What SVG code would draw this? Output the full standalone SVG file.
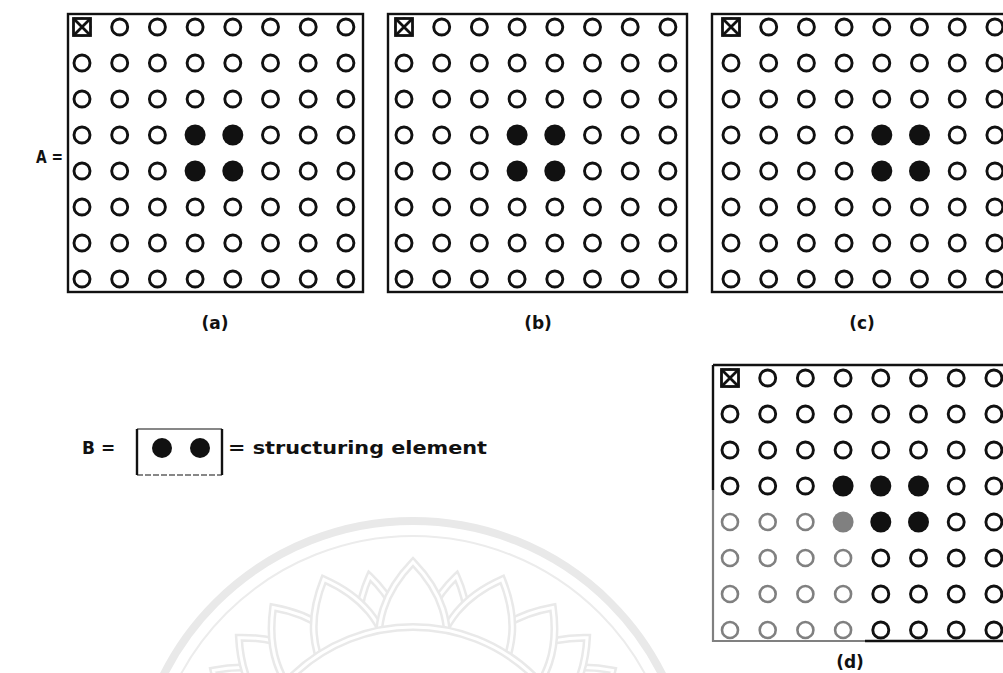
<svg xmlns="http://www.w3.org/2000/svg" xmlns:xlink="http://www.w3.org/1999/xlink" width="1003" height="673" viewBox="0 0 1003 673">
<style>
  .frame { fill: none; stroke: #111; stroke-width: 2.4; }
  .dots { fill: #fff; stroke: #111; stroke-width: 2.9; }
  .dim { fill: #fff; stroke: #808080; stroke-width: 2.6; }
  .solid { fill: #111; stroke: none; }
  .grey { fill: #808080; stroke: none; }
  .cross { fill: #fff; stroke: #111; stroke-width: 2.8; }
  .lbl { font-family: "DejaVu Sans", "Liberation Sans", sans-serif; font-weight: bold; font-size: 17px; fill: #111; }
  .wm-o { fill: #fff; stroke: #e9e9e9; stroke-width: 8; }
  .wm-i { fill: none; stroke: #fff; stroke-width: 3; }
</style>
<defs>
  <g id="q">
    <circle cx="0" cy="0" r="8"/>
    <circle cx="37.7" cy="0" r="8"/>
    <circle cx="75.4" cy="0" r="8"/>
    <circle cx="113.1" cy="0" r="8"/>
  </g>
  <g id="row">
    <use href="#q"/>
    <use href="#q" x="150.8"/>
  </g>
  <g id="xbox">
    <rect x="-8.5" y="-8.5" width="17" height="17"/>
    <path d="M-8.5,-8.5 L8.5,8.5 M8.5,-8.5 L-8.5,8.5"/>
  </g>
  <path id="petal" d="M380,668 C374,622 384,592 413,562 C442,592 452,622 446,668 Z"/>
  <path id="petal-s" d="M391,668 C388,620 396,596 413,572 C430,596 438,620 435,668 Z"/>
</defs>

<rect x="0" y="0" width="1003" height="673" fill="#fff"/>

<!-- faint watermark -->
<g id="watermark">
  <circle cx="413" cy="800" r="279" fill="none" stroke="#e9e9e9" stroke-width="8"/>
  <circle cx="413" cy="800" r="264" fill="none" stroke="#ececec" stroke-width="2"/>
  <use href="#petal" class="wm-o" transform="rotate(-57 413 800)"/><use href="#petal" class="wm-i" transform="rotate(-57 413 800)"/>
  <use href="#petal" class="wm-o" transform="rotate(57 413 800)"/><use href="#petal" class="wm-i" transform="rotate(57 413 800)"/>
  <use href="#petal" class="wm-o" transform="rotate(-47 413 800)"/><use href="#petal" class="wm-i" transform="rotate(-47 413 800)"/>
  <use href="#petal" class="wm-o" transform="rotate(47 413 800)"/><use href="#petal" class="wm-i" transform="rotate(47 413 800)"/>
  <use href="#petal" class="wm-o" transform="rotate(-36 413 800)"/><use href="#petal" class="wm-i" transform="rotate(-36 413 800)"/>
  <use href="#petal" class="wm-o" transform="rotate(36 413 800)"/><use href="#petal" class="wm-i" transform="rotate(36 413 800)"/>
  <use href="#petal-s" class="wm-o" transform="rotate(-11 413 800)"/><use href="#petal-s" class="wm-i" transform="rotate(-11 413 800)"/>
  <use href="#petal-s" class="wm-o" transform="rotate(11 413 800)"/><use href="#petal-s" class="wm-i" transform="rotate(11 413 800)"/>
  <use href="#petal" class="wm-o" transform="rotate(-22 413 800)"/><use href="#petal" class="wm-i" transform="rotate(-22 413 800)"/>
  <use href="#petal" class="wm-o" transform="rotate(22 413 800)"/><use href="#petal" class="wm-i" transform="rotate(22 413 800)"/>
  <use href="#petal" class="wm-o"/><use href="#petal" class="wm-i"/>
  <circle cx="413" cy="800" r="173" class="wm-o" stroke-width="7"/>
  <circle cx="413" cy="800" r="173" class="wm-i" stroke-width="2.4"/>
</g>

<!-- (a) -->
<g id="grid-a">
  <rect x="68" y="14" width="295" height="278" class="frame"/>
  <g class="dots">
    <use href="#row" x="82" y="27"/>
    <use href="#row" x="82" y="63"/>
    <use href="#row" x="82" y="99"/>
    <use href="#row" x="82" y="135"/>
    <use href="#row" x="82" y="171"/>
    <use href="#row" x="82" y="207"/>
    <use href="#row" x="82" y="243"/>
    <use href="#row" x="82" y="279"/>
  </g>
  <use href="#xbox" class="cross" x="82" y="27"/>
  <g class="solid">
    <circle cx="195.1" cy="135" r="10.5"/><circle cx="232.8" cy="135" r="10.5"/>
    <circle cx="195.1" cy="171" r="10.5"/><circle cx="232.8" cy="171" r="10.5"/>
  </g>
  <text x="215" y="329" class="lbl" text-anchor="middle">(a)</text>
</g>
<text id="label-A" x="36" y="163" class="lbl" font-size="16" textLength="27" lengthAdjust="spacingAndGlyphs">A =</text>

<!-- (b) -->
<g id="grid-b">
  <rect x="388" y="14" width="299" height="278" class="frame"/>
  <g class="dots">
    <use href="#row" x="404" y="27"/>
    <use href="#row" x="404" y="63"/>
    <use href="#row" x="404" y="99"/>
    <use href="#row" x="404" y="135"/>
    <use href="#row" x="404" y="171"/>
    <use href="#row" x="404" y="207"/>
    <use href="#row" x="404" y="243"/>
    <use href="#row" x="404" y="279"/>
  </g>
  <use href="#xbox" class="cross" x="404" y="27"/>
  <g class="solid">
    <circle cx="517.1" cy="135" r="10.5"/><circle cx="554.8" cy="135" r="10.5"/>
    <circle cx="517.1" cy="171" r="10.5"/><circle cx="554.8" cy="171" r="10.5"/>
  </g>
  <text x="538" y="329" class="lbl" text-anchor="middle">(b)</text>
</g>

<!-- (c) -->
<g id="grid-c">
  <rect x="712" y="14" width="310" height="278" class="frame"/>
  <g class="dots">
    <use href="#row" x="731" y="27"/>
    <use href="#row" x="731" y="63"/>
    <use href="#row" x="731" y="99"/>
    <use href="#row" x="731" y="135"/>
    <use href="#row" x="731" y="171"/>
    <use href="#row" x="731" y="207"/>
    <use href="#row" x="731" y="243"/>
    <use href="#row" x="731" y="279"/>
  </g>
  <use href="#xbox" class="cross" x="731" y="27"/>
  <g class="solid">
    <circle cx="881.8" cy="135" r="10.5"/><circle cx="919.5" cy="135" r="10.5"/>
    <circle cx="881.8" cy="171" r="10.5"/><circle cx="919.5" cy="171" r="10.5"/>
  </g>
  <text x="862" y="329" class="lbl" text-anchor="middle">(c)</text>
</g>

<!-- (d) -->
<g id="grid-d">
  <path d="M713,365 H1003 M713,365 V490 M865,641 H1003" class="frame"/>
  <path d="M713,490 V641 H865" fill="none" stroke="#808080" stroke-width="2.2"/>
  <g class="dots">
    <use href="#row" x="730" y="378"/>
    <use href="#row" x="730" y="414"/>
    <use href="#row" x="730" y="450"/>
    <use href="#row" x="730" y="486"/>
    <use href="#q" x="880.8" y="522"/>
    <use href="#q" x="880.8" y="558"/>
    <use href="#q" x="880.8" y="594"/>
    <use href="#q" x="880.8" y="630"/>
  </g>
  <g class="dim">
    <use href="#q" x="730" y="522"/>
    <use href="#q" x="730" y="558"/>
    <use href="#q" x="730" y="594"/>
    <use href="#q" x="730" y="630"/>
  </g>
  <use href="#xbox" class="cross" x="730" y="378"/>
  <g class="solid">
    <circle cx="843.1" cy="486" r="10.5"/><circle cx="880.8" cy="486" r="10.5"/><circle cx="918.5" cy="486" r="10.5"/>
    <circle cx="880.8" cy="522" r="10.5"/><circle cx="918.5" cy="522" r="10.5"/>
  </g>
  <circle cx="843.1" cy="522" r="10.5" class="grey"/>
  <text x="850" y="668" class="lbl" text-anchor="middle">(d)</text>
</g>

<!-- structuring element B -->
<g id="element-B">
  <text x="82" y="454" class="lbl">B =</text>
  <path d="M137,429 V475 M222,429 V475" class="frame"/>
  <path d="M137,429 H222" fill="none" stroke="#111" stroke-width="1.2"/>
  <path d="M137,475 H222" fill="none" stroke="#111" stroke-width="1.2" stroke-dasharray="6 2"/>
  <circle cx="162" cy="448" r="10" class="solid"/>
  <circle cx="200" cy="448" r="10" class="solid"/>
  <text x="228" y="454" class="lbl" textLength="259" lengthAdjust="spacingAndGlyphs">= structuring element</text>
</g>
</svg>
